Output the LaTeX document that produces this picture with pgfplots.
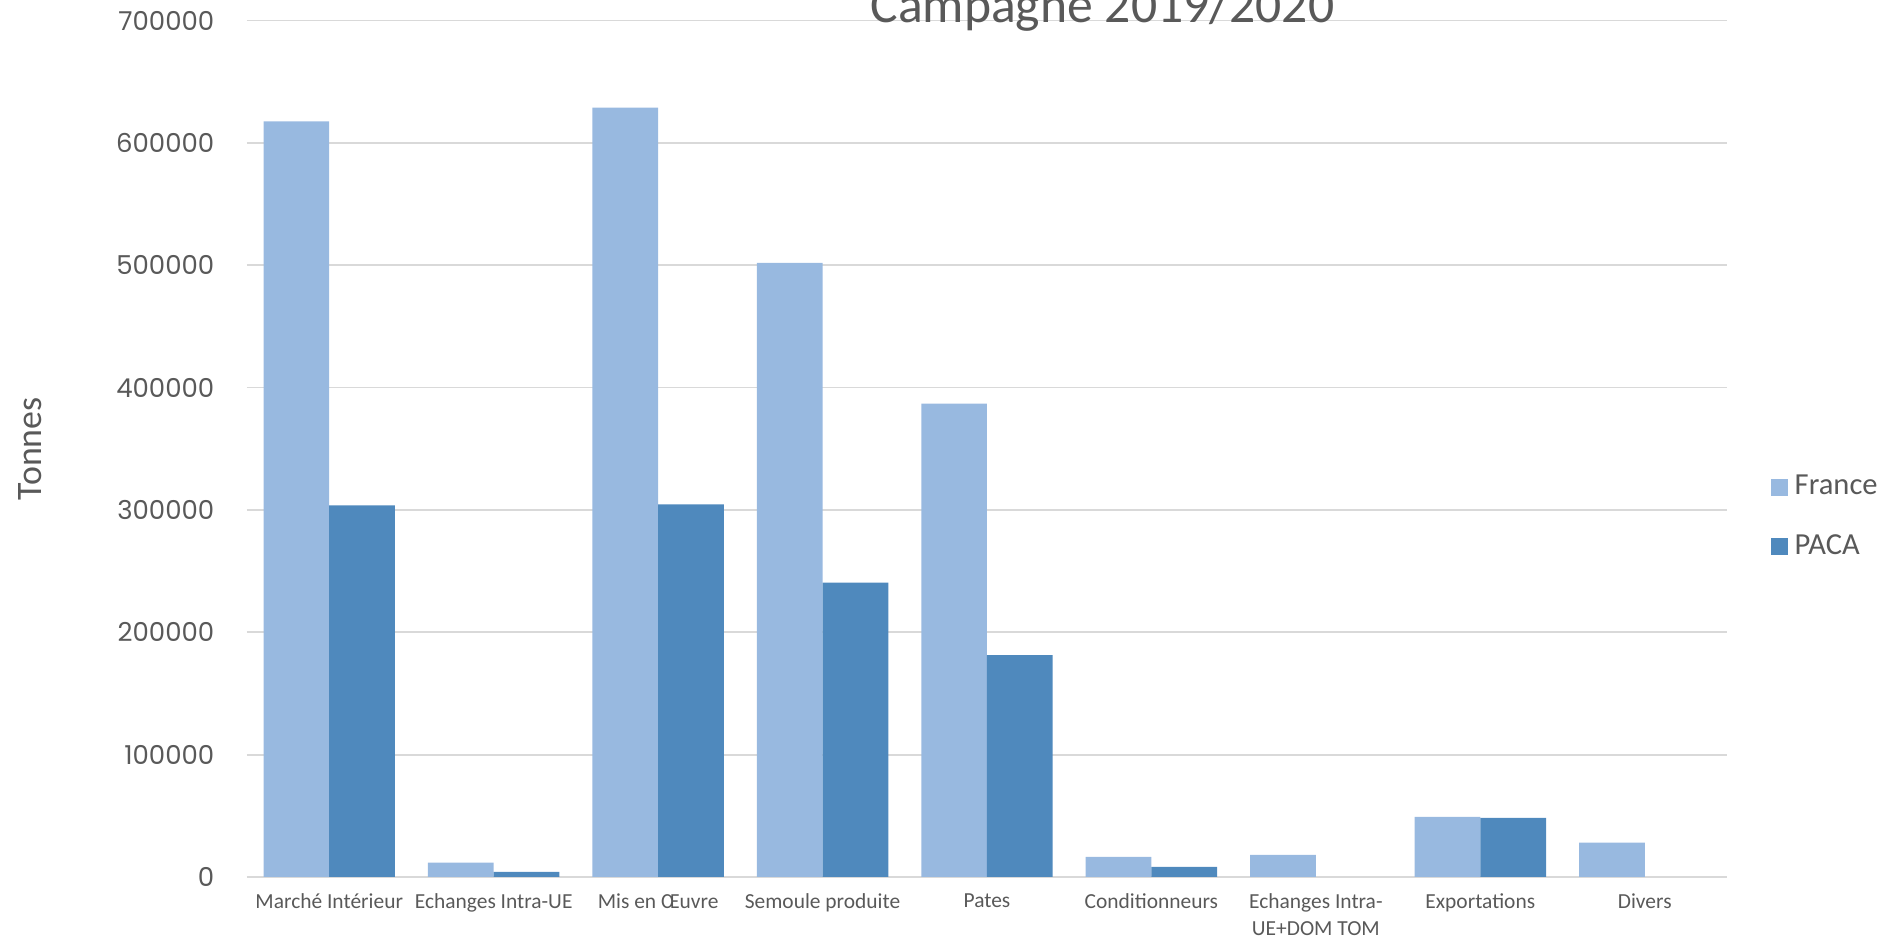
\documentclass[border=0pt]{standalone}
\usepackage{fontspec}
\setmainfont{Carlito}
\newfontfamily\numfont{Poppins}
\usepackage{pgfplots}
\pgfplotsset{compat=1.18}

\definecolor{france}{HTML}{98B9E0}
\definecolor{paca}{HTML}{4F89BD}
\definecolor{gridgray}{HTML}{D9D9D9}
\definecolor{txt}{HTML}{595959}

\begin{document}
\begin{tikzpicture}
\begin{axis}[
    at={(0,0)}, anchor=south west,
    scale only axis,
    width=148mm, height=85.65mm,
    ybar=0pt, bar width=6.57mm,
    xmin=-0.5, xmax=8.5,
    ymin=0, ymax=700000,
    ytick={0,100000,...,700000},
    xtick=data,
    xticklabels={Marché Intérieur, Echanges Intra-UE, Mis en Œuvre, Semoule produite, Pates, Conditionneurs, {Echanges Intra-\\UE+DOM TOM}, Exportations, Divers},
    scaled y ticks=false,
    /pgf/number format/assume math mode=true,
    yticklabel={\pgfmathprintnumber[fixed,precision=0,1000 sep={}]{\tick}},
    major tick length=0pt,
    tick style={draw=none},
    axis x line*=bottom, axis y line*=left,
    x axis line style={draw=gridgray, line width=0.5pt, -},
    y axis line style={draw=none},
    ymajorgrids, grid style={draw=gridgray, line width=0.5pt},
    yticklabel style={font=\numfont\fontsize{7.4}{9}\selectfont, text=txt, anchor=east, inner sep=0pt, xshift=-3.2mm},
    xticklabel style={font=\fontsize{6.1}{7.6}\selectfont, text=txt, align=center, anchor=north, inner sep=0pt, yshift=-1.6mm},
    ylabel={Tonnes},
    ylabel style={font=\fontsize{10.2}{12}\selectfont, text=txt, at={(axis description cs:0,0.5)}, anchor=center, yshift=21.7mm},
    title={Campagne 2019/2020},
    title style={font=\fontsize{14.7}{17}\selectfont, text=txt, at={(axis description cs:0.578,1)}, anchor=base, yshift=-2.35mm, inner sep=0pt, overlay},
    legend style={at={(axis description cs:1,0.42)}, anchor=west, xshift=4.3mm, draw=none, fill=none, inner sep=0pt, font=\fontsize{8.7}{10}\selectfont, text=txt, row sep=2.0mm},
    legend cell align=left,
    legend image code/.code={\fill[#1] (0mm,-0.85mm) rectangle (1.7mm,0.85mm);},
]
\addplot[draw=none, fill=france] coordinates {
    (0,617500) (1,11700) (2,628700) (3,502000) (4,386900)
    (5,16400) (6,18000) (7,49200) (8,28100)
};
\addlegendentry{France}
\addplot[draw=none, fill=paca] coordinates {
    (0,303800) (1,4100) (2,304600) (3,240600) (4,181400)
    (5,8200) (7,48400)
};
\addlegendentry{PACA}
\end{axis}
\pgfresetboundingbox
\path[use as bounding box] (-24.7mm,-6.2mm) rectangle (164.4mm,87.7mm);
\end{tikzpicture}
\end{document}
